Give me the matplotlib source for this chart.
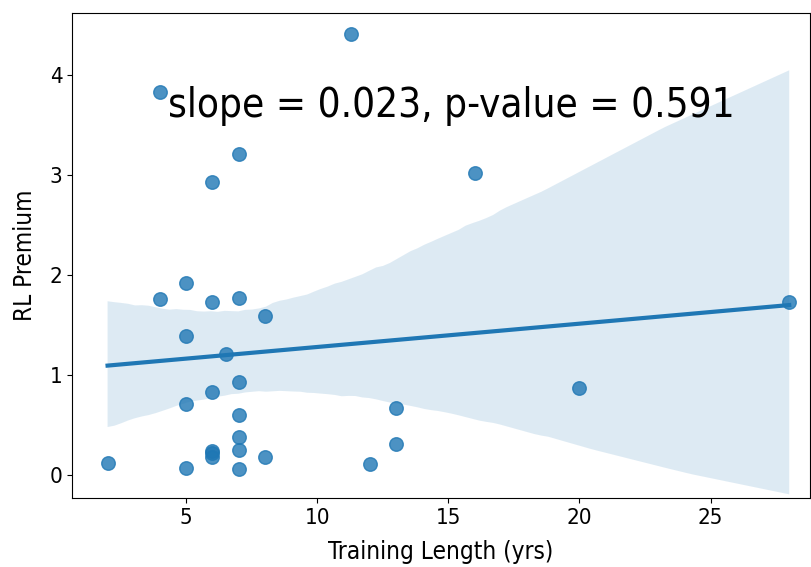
import matplotlib
matplotlib.use("Agg")
import matplotlib.pyplot as plt
import numpy as np
import pandas as pd
import seaborn as sns

# training length (yrs) and RL premium
train_yrs = [2, 4, 4, 5, 5, 5, 5, 6, 6, 6, 6, 6, 6, 6.5,
             7, 7, 7, 7, 7, 7, 7, 8, 8, 11.3, 12, 13, 13, 16, 20, 28]
rl_premium = [0.12, 3.83, 1.76, 1.92, 1.39, 0.71, 0.07, 2.93, 1.73, 0.83, 0.24, 0.22, 0.18, 1.21,
              3.21, 1.77, 0.93, 0.60, 0.38, 0.25, 0.06, 1.59, 0.18, 4.41, 0.11, 0.67, 0.31, 3.02, 0.87, 1.73]

df = pd.DataFrame({"Training Length (yrs)": train_yrs, "RL Premium": rl_premium})

plt.rcParams['font.family'] = ['DejaVu Sans']
plt.rcParams['font.stretch'] = 'condensed'

fig = plt.figure(figsize=(8.11, 5.67), dpi=100)
ax = fig.add_axes([0.089, 0.122, 0.91, 0.855])

sns.regplot(data=df, x="Training Length (yrs)", y="RL Premium", ax=ax, seed=1,
            scatter_kws={"s": 95}, line_kws={"lw": 3})

ax.text(4.3, 3.58, "slope = 0.023, p-value = 0.591", fontsize=29)

ax.set_xlim(0.65, 28.8)
ax.set_ylim(-0.23, 4.62)
ax.set_xticks([5, 10, 15, 20, 25])
ax.set_yticks([0, 1, 2, 3, 4])
ax.tick_params(labelsize=16)
ax.set_xlabel("Training Length (yrs)", fontsize=17.5, labelpad=9)
ax.set_ylabel("RL Premium", fontsize=17.5, labelpad=9)

fig.savefig("out.png", dpi=100)
